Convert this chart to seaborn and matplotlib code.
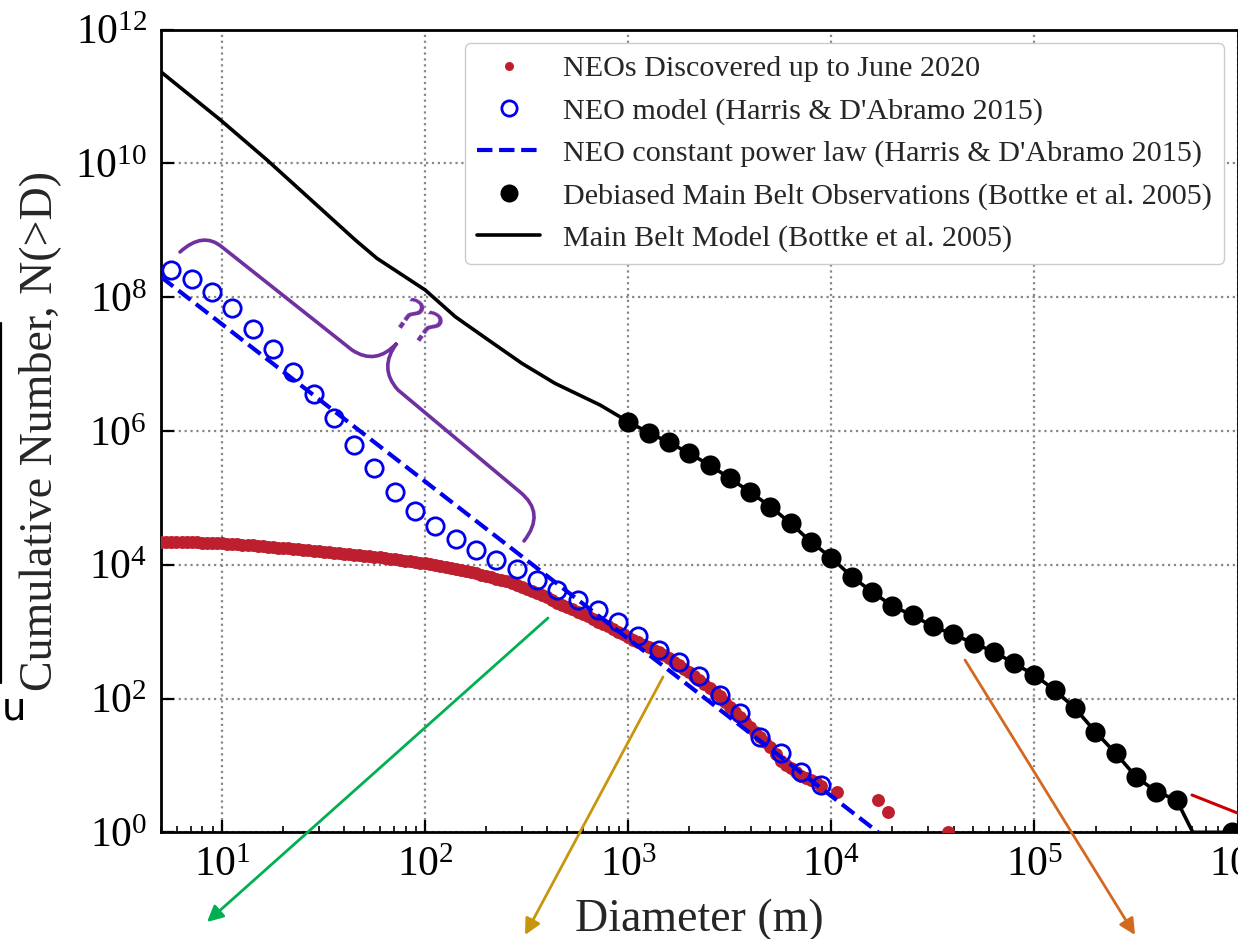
import numpy as np
import matplotlib
matplotlib.use("Agg")
import matplotlib.pyplot as plt
import matplotlib.ticker as mticker
from matplotlib.path import Path
from matplotlib.patches import PathPatch
import seaborn as sns

# ---------------- data (log10 values) ----------------
# NEOs discovered up to June 2020 (red dots, a dense band)
neo_obs_logD = [0.700, 0.725, 0.750, 0.775, 0.800, 0.825, 0.850, 0.875, 0.900, 0.925,
                0.950, 0.975, 1.000, 1.025, 1.050, 1.075, 1.100, 1.125, 1.150, 1.175,
                1.200, 1.225, 1.250, 1.275, 1.300, 1.325, 1.350, 1.375, 1.400, 1.425,
                1.450, 1.475, 1.500, 1.525, 1.550, 1.575, 1.600, 1.625, 1.650, 1.675,
                1.700, 1.725, 1.750, 1.775, 1.800, 1.825, 1.850, 1.875, 1.900, 1.925,
                1.950, 1.975, 2.000, 2.025, 2.050, 2.075, 2.100, 2.125, 2.150, 2.175,
                2.200, 2.225, 2.250, 2.275, 2.300, 2.325, 2.350, 2.375, 2.400, 2.425,
                2.450, 2.475, 2.500, 2.525, 2.550, 2.575, 2.600, 2.625, 2.650, 2.675,
                2.700, 2.725, 2.750, 2.775, 2.800, 2.825, 2.850, 2.875, 2.900, 2.925,
                2.950, 2.975, 3.000, 3.025, 3.050, 3.075, 3.100, 3.125, 3.150, 3.175,
                3.200, 3.225, 3.250, 3.275, 3.300, 3.325, 3.350, 3.375, 3.400, 3.425,
                3.450, 3.475, 3.500, 3.525, 3.550, 3.575, 3.600, 3.625, 3.650, 3.675,
                3.700, 3.725, 3.750, 3.775, 3.800, 3.825, 3.850, 3.875, 3.900, 3.925,
                3.950, 4.030, 4.230, 4.280, 4.574]
neo_obs_logN = [4.345, 4.344, 4.343, 4.342, 4.340, 4.338, 4.335, 4.333, 4.330, 4.328,
                4.325, 4.322, 4.320, 4.315, 4.310, 4.305, 4.300, 4.295, 4.290, 4.283,
                4.275, 4.268, 4.260, 4.255, 4.250, 4.245, 4.240, 4.232, 4.225, 4.218,
                4.210, 4.200, 4.190, 4.183, 4.175, 4.168, 4.160, 4.153, 4.145, 4.138,
                4.130, 4.123, 4.115, 4.108, 4.100, 4.090, 4.080, 4.070, 4.060, 4.050,
                4.040, 4.030, 4.020, 4.005, 3.990, 3.975, 3.960, 3.945, 3.930, 3.915,
                3.900, 3.885, 3.870, 3.850, 3.830, 3.810, 3.790, 3.770, 3.750, 3.725,
                3.700, 3.670, 3.640, 3.610, 3.580, 3.545, 3.510, 3.470, 3.430, 3.400,
                3.370, 3.335, 3.300, 3.265, 3.230, 3.190, 3.150, 3.115, 3.080, 3.040,
                3.000, 2.960, 2.920, 2.880, 2.840, 2.805, 2.770, 2.730, 2.690, 2.645,
                2.600, 2.550, 2.500, 2.445, 2.390, 2.335, 2.280, 2.220, 2.160, 2.095,
                2.030, 1.955, 1.880, 1.805, 1.730, 1.655, 1.580, 1.505, 1.430, 1.355,
                1.280, 1.175, 1.070, 1.010, 0.954, 0.903, 0.845, 0.815, 0.778, 0.750,
                0.699, 0.602, 0.477, 0.301, 0.0]

# NEO model (Harris & D'Abramo 2015) - open blue circles
neo_model_logD = [0.75, 0.85, 0.95, 1.05, 1.15, 1.25, 1.35, 1.45, 1.55, 1.65,
                  1.75, 1.85, 1.95, 2.05, 2.15, 2.25, 2.35, 2.45, 2.55, 2.65,
                  2.75, 2.85, 2.95, 3.05, 3.15, 3.25, 3.35, 3.45, 3.55, 3.65,
                  3.75, 3.85, 3.95]
neo_model_logN = [8.41, 8.27, 8.08, 7.83, 7.52, 7.22, 6.88, 6.55, 6.19, 5.79,
                  5.45, 5.09, 4.80, 4.58, 4.38, 4.22, 4.07, 3.94, 3.77, 3.62,
                  3.47, 3.32, 3.14, 2.93, 2.725, 2.54, 2.34, 2.05, 1.78, 1.42,
                  1.19, 0.906, 0.707]

# NEO constant power law (dashed blue)
powerlaw_D = [5.0, 17000.0]
powerlaw_N = [2.0e8, 1.0]

# Debiased Main Belt observations (Bottke et al. 2005) - black dots
mb_obs_logD = [3.0, 3.1, 3.2, 3.3, 3.4, 3.5, 3.6, 3.7, 3.8, 3.9,
               4.0, 4.1, 4.2, 4.3, 4.4, 4.5, 4.6, 4.7, 4.8, 4.9,
               5.0, 5.1, 5.2, 5.3, 5.4, 5.5, 5.6, 5.7, 5.975]
mb_obs_logN = [6.137, 5.973, 5.829, 5.665, 5.49, 5.291, 5.087, 4.867, 4.619, 4.339,
               4.105, 3.821, 3.597, 3.383, 3.243, 3.078, 2.96, 2.825, 2.70, 2.526,
               2.351, 2.127, 1.853, 1.504, 1.181, 0.831, 0.607, 0.483, 0.0]

# Main Belt model (Bottke et al. 2005) - black line
mb_model_logD = [0.699, 0.992, 1.221, 1.656, 1.762, 2.0, 2.148, 2.311, 2.476,
                 2.639, 2.861, 3.0, 3.1, 3.2, 3.3, 3.4, 3.5, 3.6, 3.7, 3.8, 3.9,
                 4.0, 4.1, 4.2, 4.3, 4.4, 4.5, 4.6, 4.7, 4.8, 4.9,
                 5.0, 5.1, 5.2, 5.3, 5.4, 5.5, 5.6, 5.7, 5.78, 5.975, 6.0]
mb_model_logN = [11.366, 10.647, 10.05, 8.853, 8.58, 8.106, 7.707, 7.359, 7.01,
                 6.711, 6.387, 6.137, 5.973, 5.829, 5.665, 5.49, 5.291, 5.087, 4.867, 4.619, 4.339,
                 4.105, 3.821, 3.597, 3.383, 3.243, 3.078, 2.96, 2.825, 2.70, 2.526,
                 2.351, 2.127, 1.853, 1.504, 1.181, 0.831, 0.607, 0.483, 0.0, 0.0, 0.0]

legend_labels = ["NEOs Discovered up to June 2020",
                 "NEO model (Harris & D'Abramo 2015)",
                 "NEO constant power law (Harris & D'Abramo 2015)",
                 "Debiased Main Belt Observations (Bottke et al. 2005)",
                 "Main Belt Model (Bottke et al. 2005)"]

xtick_exp = [1, 2, 3, 4, 5, 6]
xtick_labels = [r"$\mathdefault{10^{1}}$", r"$\mathdefault{10^{2}}$", r"$\mathdefault{10^{3}}$",
                r"$\mathdefault{10^{4}}$", r"$\mathdefault{10^{5}}$", r"$\mathdefault{10^{6}}$"]
ytick_exp = [0, 2, 4, 6, 8, 10, 12]
ytick_labels = [r"$\mathdefault{10^{0}}$", r"$\mathdefault{10^{2}}$", r"$\mathdefault{10^{4}}$",
                r"$\mathdefault{10^{6}}$", r"$\mathdefault{10^{8}}$", r"$\mathdefault{10^{10}}$",
                r"$\mathdefault{10^{12}}$"]

# ---------------- style ----------------
sns.set_theme(style="ticks")
plt.rcParams['font.family'] = ['Liberation Serif', 'DejaVu Serif']
plt.rcParams['mathtext.fontset'] = 'stix'
plt.rcParams['axes.edgecolor'] = 'black'

W, H = 1238, 939
fig = plt.figure(figsize=(W / 100, H / 100), dpi=100)
fig.patch.set_facecolor('white')
ax = fig.add_axes([161 / W, 1 - 832.3 / H, (1237.5 - 161) / W, (832.3 - 29.5) / H])
ax.set_facecolor('white')
ax.set_xscale('log')
ax.set_yscale('log')

RED = '#bd1f2f'
BLUE = '#0000ee'

p = lambda a: 10.0 ** np.asarray(a, dtype=float)

sns.lineplot(x=p(mb_model_logD), y=p(mb_model_logN), ax=ax, color='black', lw=2.6,
             sort=False, estimator=None, zorder=2, label=legend_labels[4])
sns.lineplot(x=p(mb_obs_logD), y=p(mb_obs_logN), ax=ax, color='black', linestyle='',
             marker='o', ms=14.5, mec='black', mew=0, sort=False, estimator=None,
             zorder=3, label=legend_labels[3])
sns.lineplot(x=p(neo_obs_logD), y=p(neo_obs_logN), ax=ax, color=RED, linestyle='',
             marker='o', ms=9.3, mec=RED, mew=0, sort=False, estimator=None,
             zorder=3, label=legend_labels[0])
sns.lineplot(x=powerlaw_D, y=powerlaw_N, ax=ax, color=BLUE, lw=3, linestyle='--',
             dashes=(3.4, 2.0), sort=False, estimator=None, zorder=4, label=legend_labels[2])
sns.lineplot(x=p(neo_model_logD), y=p(neo_model_logN), ax=ax, color=BLUE, linestyle='',
             marker='o', ms=12.5, mfc='none', mec=BLUE, mew=2.0, sort=False,
             estimator=None, zorder=5, label=legend_labels[1])

ax.set_xlim(5, 1e6)
ax.set_ylim(1, 1e12)
ax.set_xticks(p(xtick_exp), xtick_labels)
ax.set_yticks(p(ytick_exp), ytick_labels)
ax.xaxis.set_minor_locator(mticker.LogLocator(base=10, subs=np.arange(2, 10), numticks=30))
ax.xaxis.set_minor_formatter(mticker.NullFormatter())
ax.yaxis.set_minor_locator(mticker.NullLocator())
ax.tick_params(which='major', direction='in', length=9, width=1.6, labelsize=30,
               pad=10, colors='black')
ax.tick_params(which='minor', direction='in', length=4.5, width=1.2, colors='black')
ax.grid(which='major', linestyle=':', color='#888888', lw=1.6)
ax.grid(which='minor', visible=False)
for s in ax.spines.values():
    s.set_linewidth(2.0)
    s.set_color('black')
    s.set_visible(True)

ax.set_xlabel('Diameter (m)', fontsize=33)
ax.xaxis.set_label_coords(0.5, -0.082)
ax.set_ylabel('Cumulative Number, N(>D)', fontsize=33, labelpad=10)

h, l = ax.get_legend_handles_labels()
hd = dict(zip(l, h))
leg = ax.legend([hd[k] for k in legend_labels], legend_labels, loc='upper right',
                fontsize=21.7, frameon=True, fancybox=True, edgecolor='#cccccc',
                framealpha=1.0, labelspacing=0.5, handlelength=2.1,
                borderpad=0.4, borderaxespad=0.45, handletextpad=0.75)
lh = leg.legend_handles
lh[0].set_markersize(6.5)
lh[1].set_markersize(11)
lh[3].set_markersize(13)

# ---------------- overlay annotations (pixel coordinates) ----------------
ov = fig.add_axes([0, 0, 1, 1], zorder=10)
ov.set_xlim(0, W)
ov.set_ylim(H, 0)
ov.axis('off')
ov.patch.set_alpha(0)

arrows = [((548, 618), (207, 922), '#00b050'),
          ((663, 677), (525, 935), '#c8960c'),
          ((965, 660), (1135, 935), '#d2691e')]
for tail, head, col in arrows:
    ov.annotate('', xy=head, xytext=tail, annotation_clip=False,
                arrowprops=dict(arrowstyle='-|>', color=col, lw=2, mutation_scale=24,
                                shrinkA=0, shrinkB=0))
ov.plot([1192, 1240], [795, 814], color='#cc0000', lw=2.2)

PURPLE = '#7030a0'
verts = [(180, 252), (203, 231), (222, 247), (352, 350), (376, 366), (397, 343),
         (378, 368), (398, 390), (520, 492), (546, 513), (524, 541)]
codes = [Path.MOVETO, Path.CURVE3, Path.CURVE3, Path.LINETO, Path.CURVE3, Path.CURVE3,
         Path.CURVE3, Path.CURVE3, Path.LINETO, Path.CURVE3, Path.CURVE3]
ov.add_patch(PathPatch(Path(verts, codes), fill=False, edgecolor=PURPLE, lw=2.6,
                       capstyle='round'))
ov.text(416, 326, '??', rotation=-35, color=PURPLE, fontsize=32,
        family='DejaVu Sans', ha='center', va='center')

ov.text(14, 708, 'u', family='DejaVu Sans', fontsize=28, ha='center', va='center',
        color='black')
ov.plot([1.2, 1.2], [323, 683], color='black', lw=1.6)

fig.savefig('out.png', dpi=100)
